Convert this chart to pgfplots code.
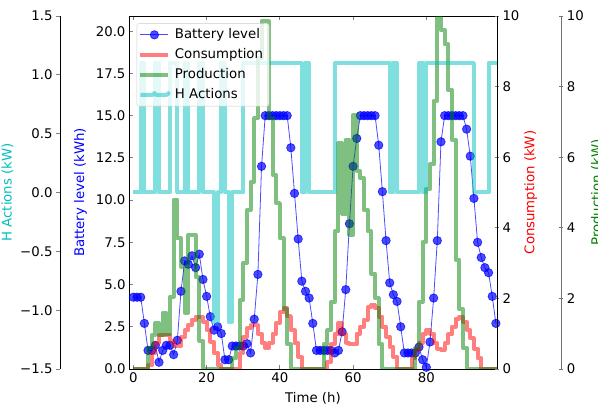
\documentclass[border=0pt]{standalone}
\usepackage{pgfplots}
\pgfplotsset{compat=1.18}
\usepackage{pgfplotstable}
\usepackage{fontspec}
\setmainfont{DejaVu Sans}
\newcommand{\fs}{\fontsize{13.3}{16}\selectfont}
\definecolor{mplc}{rgb}{0,0.75,0.75}
\definecolor{mplg}{rgb}{0,0.5,0}

% hourly values: battery (kWh), consumption, production, H actions (kW)
\pgfplotstableread{
h batt cons prod act
0 4.25 0 0 0
1 4.25 0 0 0
2 4.25 0 0 1.1
3 2.7 0 0 0
4 1.1 0.1 0.6 0
5 1.1 0.45 0.95 0
6 1.4 0.75 1.3 1.1
7 0.4 0.95 0.95 0
8 1.1 0.95 1.6 0
9 1.4 0.95 1.0 0
10 1.4 0.8 2.05 1.1
11 0.85 0.65 4.8 1.1
12 1.7 0.65 3.7 0
13 4.6 0.9 2.9 0
14 6.4 1.1 1.6 1.1
15 6.2 1.25 3.8 0
16 6.7 1.4 3.8 0
17 6.0 1.48 2.6 0
18 6.8 1.48 0.8 1.1
19 5.3 1.34 0 0
20 4.3 1.1 0 0
21 3.1 0.77 0 0
22 2.3 0.45 0 -1.1
23 2.5 0.1 0 0
24 2.1 0 0 1.1
25 0.55 0 0 0
26 0.55 0 0 -1.1
27 1.36 0 0.3 0
28 1.36 0 0.6 0
29 1.36 0.45 1.95 0
30 1.36 0.9 3.0 1.1
31 1.5 1.15 4.5 1.1
32 0.95 1.25 5.3 1.1
33 2.95 1.25 7.1 1.1
34 5.6 1.0 8.8 1.1
35 12.0 0.75 9.85 1.1
36 15 0.6 9.85 1.1
37 15 0.75 7.1 1.1
38 15 1.0 5.5 1.1
39 15 1.3 4.7 1.1
40 15 1.62 3.7 1.1
41 15 1.72 1.7 1.1
42 15 1.5 0.7 1.1
43 13.1 1.1 0 1.1
44 10.4 0.73 0 1.1
45 7.7 0.35 0 1.1
46 5.2 0 0 0
47 4.6 0 0 1.1
48 4.2 0 0 0
49 2.7 0 0 0
50 1.1 0 0 0
51 1.1 0 0 0
52 1.1 0 0.7 0
53 1.1 0.2 1.1 0
54 1.1 0.7 1.9 0
55 0.95 1.0 3.9 1.1
56 1.1 1.3 6.4 1.1
57 2.2 1.0 4.4 1.1
58 4.7 0.75 6.5 1.1
59 8.6 0.7 3.8 1.1
60 12.0 0.7 7.2 1.1
61 13.65 1.0 5.6 1.1
62 15 1.2 5.4 1.1
63 15 1.4 4.5 1.1
64 15 1.75 3.9 1.1
65 15 1.81 2.7 1.1
66 15 1.74 2.0 1.1
67 13.25 1.48 0.7 1.1
68 10.5 1.2 0 1.1
69 7.6 0.92 0 1.1
70 5.1 0.63 0 0
71 4.4 0.35 0 1.1
72 4.0 0 0 0
73 2.5 0 0 0
74 0.95 0 0 0
75 0.95 0 0 0
76 0.95 0.3 0 0
77 0.95 0.54 0.6 0
78 1.3 0.73 1.9 1.1
79 0.55 1.0 3.6 0
80 0.1 1.1 5.1 1.1
81 1.6 1.0 5.8 1.1
82 4.2 0.73 7.6 1.1
83 7.6 0.58 9.95 1.1
84 13.45 0.54 9.6 1.1
85 15 0.73 9.2 1.1
86 15 0.98 7.9 1.1
87 15 1.2 6.5 1.1
88 15 1.43 3.1 1.1
89 15 1.48 1.7 1.1
90 15 1.34 0.6 1.1
91 14.2 1.11 0 1.1
92 12.6 0.87 0 1.1
93 10.1 0.58 0 0
94 7.5 0.3 0 0
95 6.6 0 0 0
96 6.0 0 0 0
97 5.7 0 0 1.1
98 4.3 0 0 1.1
99 2.7 0 0 1.1
100 2.7 0 0 1.1
}\data

\pgfplotsset{
  base/.style={
    at={(0,0)}, anchor=south west, scale only axis,
    width=368pt, height=353pt,
    xmin=-1.2, xmax=99.3,
    tick label style={font=\fs}, label style={font=\fs},
    major tick length=4pt, tick style={line width=0.8pt},
    axis line style={line width=0.8pt},
    /pgf/number format/assume math mode=true,
  },
  steps/.style={const plot, line width=4pt, opacity=0.5, line join=round},
}

\begin{document}
\begin{tikzpicture}
% battery level
\begin{axis}[base, ymin=0, ymax=20.9,
  xtick={0,20,40,60,80}, xticklabels={0,20,40,60,80},
  ytick={0,2.5,5,7.5,10,12.5,15,17.5,20},
  yticklabels={0.0,2.5,5.0,7.5,10.0,12.5,15.0,17.5,20.0},
  xtick pos=both, ytick pos=left, tick align=inside,
  xlabel={Time (h)}, ylabel={Battery level (kWh)},
  ylabel style={blue, at={(axis description cs:-0.1318,0.5)}, anchor=center},
  xlabel style={at={(axis description cs:0.5,-0.082)}, anchor=center},
]
\addplot[blue, opacity=0.7, line width=0.8pt, mark=*, mark size=4.2pt]
  table[x=h, y=batt, restrict x to domain=0:99]{\data};
\end{axis}

% consumption and production
\begin{axis}[base, ymin=0, ymax=10, axis x line=none, axis y line*=right,
  ytick={0,2,4,6,8,10}, yticklabels={0,2,4,6,8,10}, tick align=center,
  ylabel={Consumption (kW)},
  ylabel style={red, at={(axis description cs:1.0918,0.5)}, anchor=center},
]
\addplot[steps, red] table[x=h, y=cons]{\data};
\addplot[steps, mplg] table[x=h, y=prod]{\data};
\end{axis}

% production scale
\begin{axis}[base, at={(64.4pt,0)}, ymin=0, ymax=10, axis x line=none, axis y line*=right,
  ytick={0,2,4,6,8,10}, yticklabels={0,2,4,6,8,10}, tick align=center,
  axis line style={black!55}, tick style={black!55},
  ylabel={Production (kW)},
  ylabel style={mplg, at={(axis description cs:1.0967,0.5)}, anchor=center},
]
\addplot[draw=none] coordinates {(0,0)};
\end{axis}

% H actions scale
\begin{axis}[base, at={(-69pt,0)}, ymin=-1.5, ymax=1.5, axis x line=none, axis y line*=left,
  ytick={-1.5,-1,-0.5,0,0.5,1,1.5},
  yticklabels={−1.5,−1.0,−0.5,0.0,0.5,1.0,1.5}, tick align=outside,
  ylabel={H Actions (kW)},
  ylabel style={mplc, at={(axis description cs:-0.143,0.5)}, anchor=center},
]
\addplot[draw=none] coordinates {(0,0)};
\end{axis}

% H actions and legend
\begin{axis}[base, ymin=-1.5, ymax=1.5, hide axis,
  legend cell align=left,
  legend image code/.code={\draw[mark repeat=2, mark phase=2, #1] plot coordinates {(0pt,0pt) (14pt,0pt) (28pt,0pt)};},
  legend style={at={(0.021,0.979)}, anchor=north west, font=\fs,
    draw=black!20, fill=white, fill opacity=0.8, text opacity=1,
    rounded corners=2pt, inner sep=1.5pt,
    nodes={inner xsep=4.5pt, inner ysep=3pt, text height=10pt, text depth=3.5pt},
    row sep=0.5pt},
]
\addlegendimage{blue, opacity=0.7, line width=0.8pt, mark=*, mark size=4.2pt}
\addlegendentry{Battery level}
\addlegendimage{line width=4pt, opacity=0.5, red}
\addlegendentry{Consumption}
\addlegendimage{line width=4pt, opacity=0.5, mplg}
\addlegendentry{Production}
\addplot[steps, mplc] table[x=h, y=act]{\data};
\addlegendentry{H Actions}
\end{axis}

\pgfresetboundingbox
\path[use as bounding box] (-129pt,-37pt) rectangle (469pt,369pt);
\end{tikzpicture}
\end{document}
